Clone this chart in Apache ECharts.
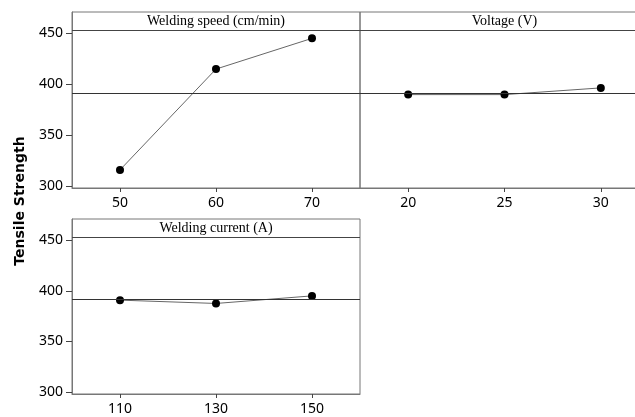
<!DOCTYPE html>
<html>
<head>
<meta charset="utf-8">
<script src="https://cdn.jsdelivr.net/npm/echarts@6/dist/echarts.min.js"></script>
<style>
  html, body { margin: 0; padding: 0; background: #fff; }
  #main { width: 635px; height: 417px; }
</style>
</head>
<body>
<div id="main"></div>
<script>
// panel titles
const panelTitles = ['Welding speed (cm/min)', 'Voltage (V)', 'Welding current (A)'];

// factor levels (x) and mean tensile strength (y)
const speedLevels = [50, 60, 70];
const speedMeans = [315.8, 414.9, 445.1];
const voltageLevels = [20, 25, 30];
const voltageMeans = [389.8, 389.8, 396.4];
const currentLevels = [110, 130, 150];
const currentMeans = [390.8, 387.5, 395.0];

const yTicks = [300, 350, 400, 450];
const grandMean = 391.2;
const headerLine = 452.6;

const chart = echarts.init(document.getElementById('main'));

const labelFont = { fontFamily: 'Noto Sans', fontSize: 14, color: '#000' };
const borderColor = '#777';

function xAxisFor(idx, min, max, ticks) {
  return {
    type: 'value', gridIndex: idx, min: min, max: max,
    splitLine: { show: false },
    axisLine: { show: true, lineStyle: { color: borderColor } },
    axisTick: { show: true, length: 4, customValues: ticks, lineStyle: { color: '#444' } },
    axisLabel: Object.assign({ customValues: ticks, margin: 8 }, labelFont)
  };
}

function yAxisFor(idx, showLabels) {
  return {
    type: 'value', gridIndex: idx, min: 298, max: 471,
    splitLine: { show: false },
    axisLine: { show: showLabels, lineStyle: { color: borderColor } },
    axisTick: { show: showLabels, length: 6, customValues: yTicks, lineStyle: { color: '#444' } },
    axisLabel: Object.assign({ show: showLabels, customValues: yTicks, margin: 9 }, labelFont)
  };
}

function seriesFor(idx, xs, ys) {
  return {
    type: 'line', xAxisIndex: idx, yAxisIndex: idx,
    data: xs.map((x, i) => [x, ys[i]]),
    symbol: 'circle', symbolSize: 8,
    itemStyle: { color: '#000' },
    lineStyle: { color: '#666', width: 1 },
    silent: true,
    markLine: {
      silent: true, symbol: 'none', label: { show: false },
      data: [
        { yAxis: grandMean, lineStyle: { color: '#333', width: 1, type: 'solid' } },
        { yAxis: headerLine, lineStyle: { color: '#444', width: 1, type: 'solid' } }
      ]
    }
  };
}

const headerStyle = { fontFamily: 'Liberation Serif', fontSize: 14, fill: '#000', textAlign: 'center', textVerticalAlign: 'middle' };
const gridBase = { show: true, borderColor: borderColor, borderWidth: 1, outerBoundsMode: 'none', containLabel: false };

chart.setOption({
  animation: false,
  grid: [
    Object.assign({ left: 72, top: 12, width: 288, height: 176 }, gridBase),
    Object.assign({ left: 360, top: 12, width: 289, height: 176 }, gridBase),
    Object.assign({ left: 72, top: 219, width: 288, height: 175 }, gridBase)
  ],
  xAxis: [
    xAxisFor(0, 45, 75, speedLevels),
    xAxisFor(1, 17.5, 32.5, voltageLevels),
    xAxisFor(2, 100, 160, currentLevels)
  ],
  yAxis: [yAxisFor(0, true), yAxisFor(1, false), yAxisFor(2, true)],
  series: [
    seriesFor(0, speedLevels, speedMeans),
    seriesFor(1, voltageLevels, voltageMeans),
    seriesFor(2, currentLevels, currentMeans)
  ],
  graphic: [
    { type: 'text', x: 216, y: 21, style: Object.assign({ text: panelTitles[0] }, headerStyle) },
    { type: 'text', x: 504.5, y: 21, style: Object.assign({ text: panelTitles[1] }, headerStyle) },
    { type: 'text', x: 216, y: 228, style: Object.assign({ text: panelTitles[2] }, headerStyle) },
    {
      type: 'text', x: 20, y: 201, rotation: Math.PI / 2,
      style: { text: 'Tensile Strength', fontFamily: 'DejaVu Sans', fontWeight: 'bold', fontSize: 14,
               fill: '#000', textAlign: 'center', textVerticalAlign: 'middle' }
    }
  ]
});
</script>
</body>
</html>
